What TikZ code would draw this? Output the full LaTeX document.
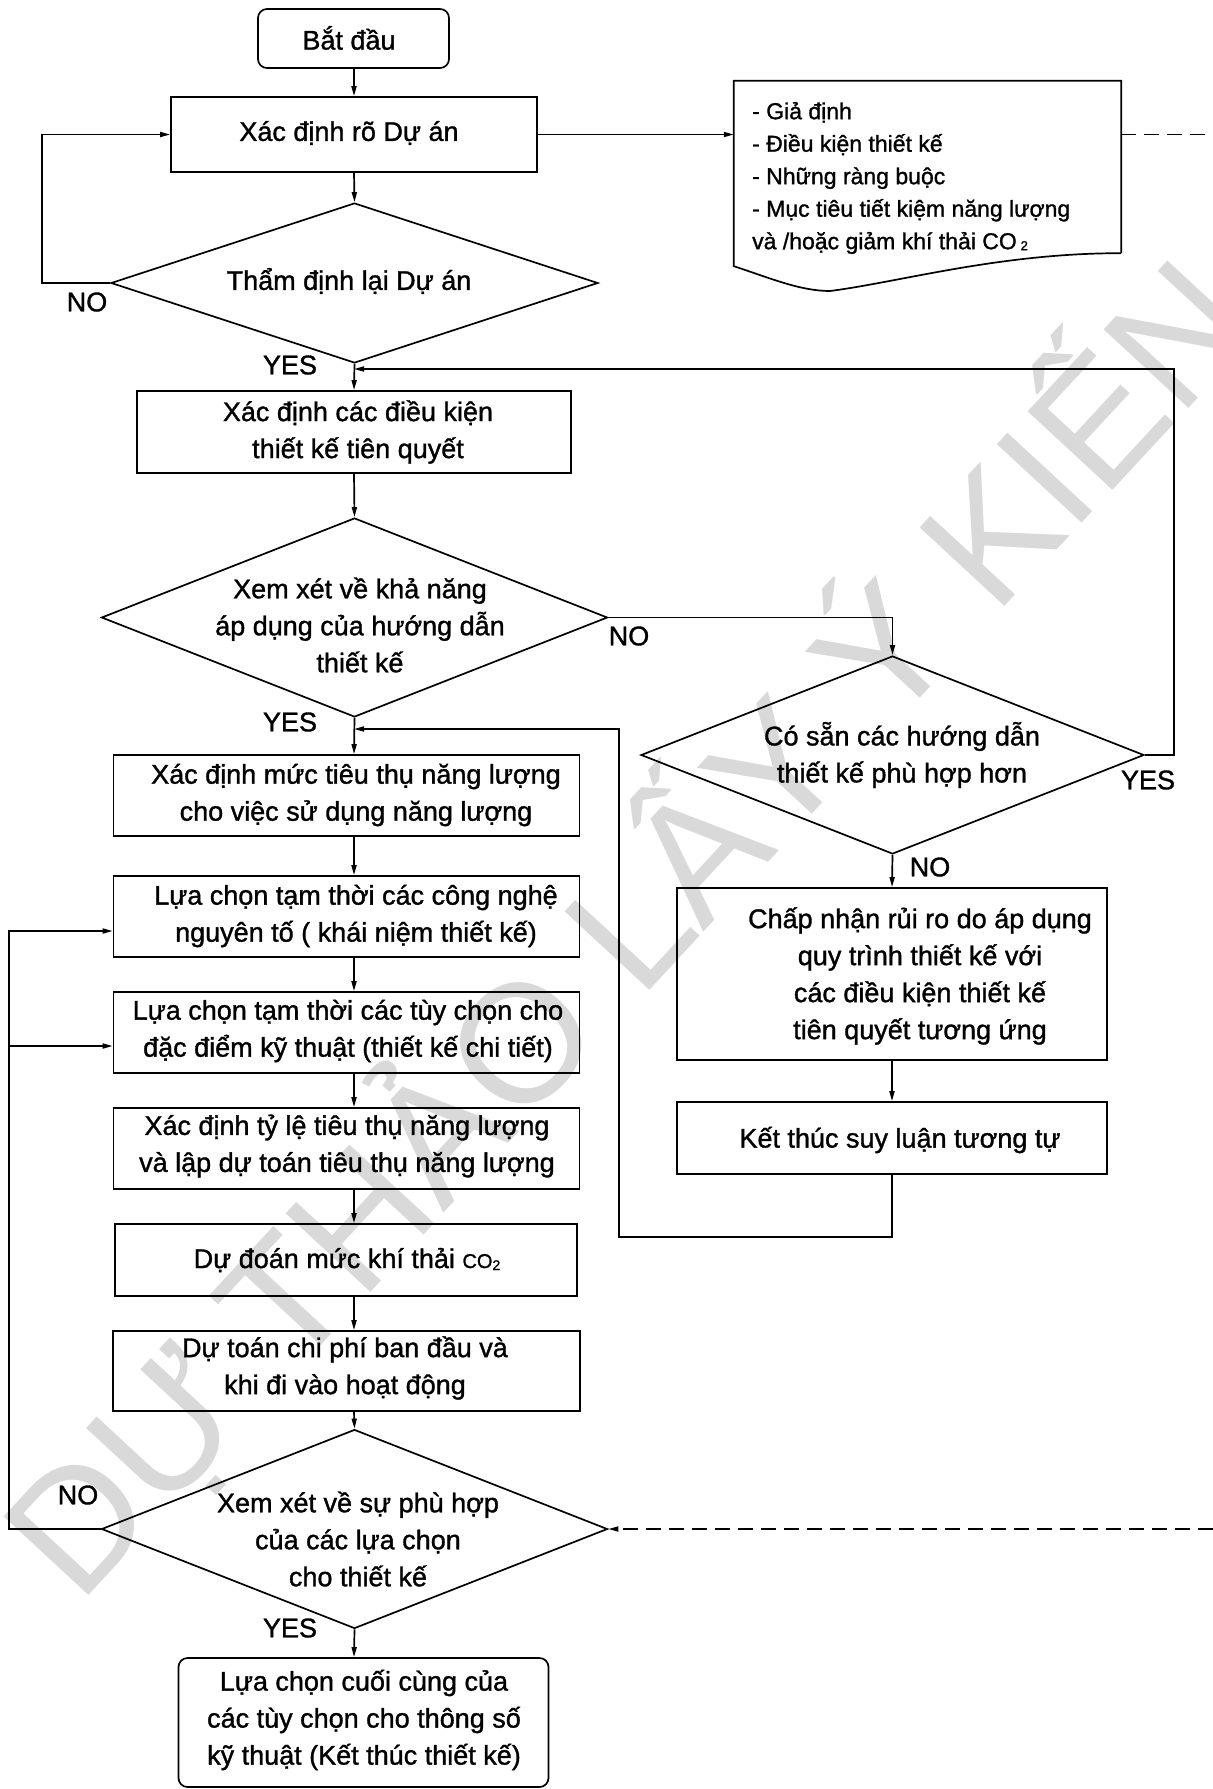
\documentclass[tikz,border=0pt]{standalone}
\usepackage{fontspec}
\setmainfont{Liberation Sans}
\newfontface\mf{Liberation Sans}[FakeBold=1.2]
\newfontfamily\wmfont{Liberation Sans}
\usetikzlibrary{arrows.meta,shapes.geometric,calc}
\newcommand\fsz{\mf\fontsize{27}{37}\selectfont}
\newcommand\dsz{\mf\fontsize{23}{32.5}\selectfont}
\newcommand\wmsz{\wmfont\fontsize{168}{168}\selectfont}
\begin{document}
\begin{tikzpicture}[x=1pt,y=-1pt,
  ln/.style={line width=1.7pt},
  arr/.style={ln,-{Triangle[length=10pt,width=5pt]}},
  dsh/.style={ln,dash pattern=on 15pt off 8pt},
  box/.style={draw,ln,rectangle,inner sep=0pt},
  rbox/.style={box,rounded corners=9pt},
  dia/.style={draw,ln,diamond,inner sep=0pt},
  txt/.style={align=center,font=\fsz,inner sep=0pt},
  lbl/.style={font=\fsz,inner sep=0pt},
  wm/.style={rotate=47.2,text=black!15,font=\wmsz,inner sep=0pt}]
\useasboundingbox (0,0) rectangle (1213,1789);
\fill[white] (0,0) rectangle (1213,1789);
% watermark
\node[wm] (wmk) at (625,925) {DỰ THẢO LẤY Ý KIẾN};
% shapes
\node[rbox,minimum width=191pt,minimum height=59pt] (b0) at (353.5,38.5) {};
\node[box,minimum width=366pt,minimum height=75pt] (b1) at (354,134.5) {};
\node[dia,minimum width=487pt,minimum height=160pt] (d1) at (354.5,283) {};
\node[box,minimum width=434pt,minimum height=82pt] (b2) at (354,432) {};
\node[dia,minimum width=506pt,minimum height=199pt] (d2) at (354.5,617.5) {};
\node[box,minimum width=466pt,minimum height=81pt] (b3) at (346.5,795.5) {};
\node[box,minimum width=466pt,minimum height=81pt] (b4) at (346.5,916.5) {};
\node[box,minimum width=466pt,minimum height=81pt] (b5) at (346.5,1032.5) {};
\node[box,minimum width=466pt,minimum height=81pt] (b6) at (346.5,1148.5) {};
\node[box,minimum width=462pt,minimum height=72pt] (b7) at (346,1260) {};
\node[box,minimum width=467pt,minimum height=80pt] (b8) at (346.5,1371) {};
\node[dia,minimum width=506pt,minimum height=199pt] (d3) at (354.5,1529) {};
\node[rbox,minimum width=370pt,minimum height=129pt] (be) at (363.5,1722.5) {};
\node[dia,minimum width=503pt,minimum height=198pt] (d4) at (892.5,755) {};
\node[box,minimum width=430pt,minimum height=172pt] (cn) at (892,974) {};
\node[box,minimum width=430pt,minimum height=72pt] (kt) at (892,1138) {};
\node[inner sep=0pt,minimum width=387pt,minimum height=172pt] (doc) at (927.5,167) {};
\draw[ln] (doc.south east) -- (doc.north east) -- (doc.north west) -- ($(doc.south west)+(0,13)$)
  .. controls (770,278) and (800,291) .. (830,291)
  .. controls (900,282) and (1000,253) .. (doc.south east);
% texts
\node[txt] (t0) at (349,38) {Bắt đầu};
\node[txt] (t1) at (349,133) {Xác định rõ Dự án};
\node[txt] (td1) at (349,281) {Thẩm định lại Dự án};
\node[txt] (t2) at (358,432) {Xác định các điều kiện\\thiết kế tiên quyết};
\node[txt] (td2) at (360,625) {Xem xét về khả năng\\áp dụng của hướng dẫn\\thiết kế};
\node[txt] (t3) at (356,795) {Xác định mức tiêu thụ năng lượng\\cho việc sử dụng năng lượng};
\node[txt] (t4) at (356,916) {Lựa chọn tạm thời các công nghệ\\nguyên tố ( khái niệm thiết kế)};
\node[txt] (t5) at (348,1031) {Lựa chọn tạm thời các tùy chọn cho\\đặc điểm kỹ thuật (thiết kế chi tiết)};
\node[txt] (t6) at (347,1146) {Xác định tỷ lệ tiêu thụ năng lượng\\và lập dự toán tiêu thụ năng lượng};
\node[txt] (t7) at (347,1260) {Dự đoán mức khí thải {\fontsize{20}{20}\selectfont CO}\raisebox{-2pt}{\fontsize{14}{14}\selectfont 2}};
\node[txt] (t8) at (345,1368) {Dự toán chi phí ban đầu và\\khi đi vào hoạt động};
\node[txt] (td3) at (358,1539) {Xem xét về sự phù hợp\\của các lựa chọn\\cho thiết kế};
\node[txt] (te) at (364,1720) {Lựa chọn cuối cùng của\\các tùy chọn cho thông số\\kỹ thuật (Kết thúc thiết kế)};
\node[txt] (td4) at (902,755) {Có sẵn các hướng dẫn\\thiết kế phù hợp hơn};
\node[txt] (tcn) at (920,976) {Chấp nhận rủi ro do áp dụng\\quy trình thiết kế với\\các điều kiện thiết kế\\tiên quyết tương ứng};
\node[txt] (tkt) at (900,1140) {Kết thúc suy luận tương tự};
\node[align=left,font=\dsz,inner sep=0pt,anchor=west] (tdoc) at (752,178) {- Giả định\\- Điều kiện thiết kế\\- Những ràng buộc\\- Mục tiêu tiết kiệm năng lượng\\và /hoặc giảm khí thải CO\,\raisebox{-1pt}{\fontsize{13}{13}\selectfont 2}};
% labels
\node[lbl] (no1) at (87,302) {NO};
\node[lbl] (yes1) at (290,365) {YES};
\node[lbl] (no2) at (629,636) {NO};
\node[lbl] (yes2) at (290,722) {YES};
\node[lbl] (yes4) at (1148,780) {YES};
\node[lbl] (no4) at (930,867) {NO};
\node[lbl] (no3) at (78,1495) {NO};
\node[lbl] (yes3) at (290,1628) {YES};
% connectors
\coordinate (ax) at (354,0);
\draw[arr] (b0.south -| ax) -- (b1.north -| ax);
\draw[arr] (b1.south) -- (d1.north);
\draw[arr] (d1.south) -- (b2.north);
\coordinate (n1) at (42,283);
\draw[arr] (d1.west) -- (n1) |- (b1.west);
\draw[arr] (b1.east) -- (b1.east -| doc.west);
\coordinate (e1) at (1213,134.5);
\draw[dsh] (b1.east -| doc.east) -- (e1);
\draw[arr] (b2.south) -- (d2.north);
\draw[arr] (d2.south) -- (b3.north -| ax);
\draw[arr] (b3.south -| ax) -- (b4.north -| ax);
\draw[arr] (b4.south -| ax) -- (b5.north -| ax);
\draw[arr] (b5.south -| ax) -- (b6.north -| ax);
\draw[arr] (b6.south -| ax) -- (b7.north -| ax);
\draw[arr] (b7.south -| ax) -- (b8.north -| ax);
\draw[arr] (b8.south -| ax) -- (d3.north);
\draw[arr] (d3.south) -- (be.north -| ax);
\coordinate (r1) at (1174,369);
\draw[arr] (d4.east) -| (r1) -- (r1 -| ax);
\draw[arr] (d2.east) -| (d4.north);
\draw[arr] (d4.south) -- (cn.north);
\draw[arr] (cn.south) -- (kt.north);
\coordinate (r2) at (619,1237);
\coordinate (r3) at (619,729);
\draw[arr] (kt.south) |- (r2) -- (r3) -- (r3 -| ax);
\coordinate (j4) at (9,931);
\coordinate (j5) at (9,1046);
\draw[arr] (d3.west) -| (j4) -- (j4 -| b4.west);
\draw[arr] (j5) -- (j5 -| b5.west);
\coordinate (e2) at (1213,1529);
\draw[dsh,-{Triangle[length=10pt,width=5pt]}] (e2) -- (d3.east);
\end{tikzpicture}
\end{document}
